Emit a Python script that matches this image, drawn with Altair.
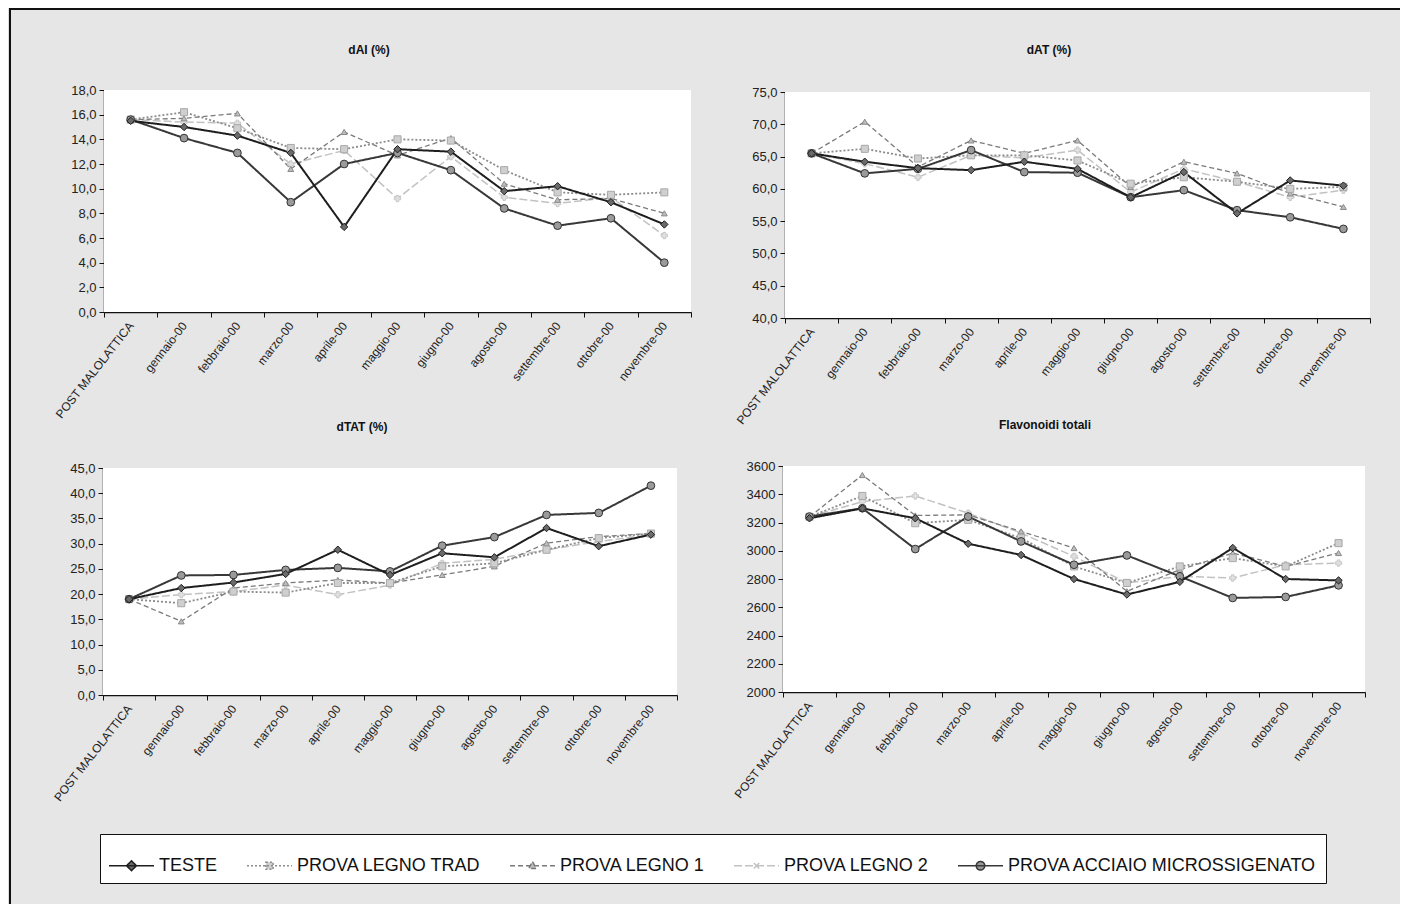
import altair as alt
import pandas as pd

CATS = ["POST MALOLATTICA", "gennaio-00", "febbraio-00", "marzo-00", "aprile-00", "maggio-00",
        "giugno-00", "agosto-00", "settembre-00", "ottobre-00", "novembre-00"]
SERIES = ["TESTE", "PROVA LEGNO TRAD", "PROVA LEGNO 1", "PROVA LEGNO 2", "PROVA ACCIAIO MICROSSIGENATO"]

# dAI (%)
dai_teste = [15.5, 15.0, 14.3, 12.9, 6.9, 13.2, 13.0, 9.8, 10.2, 8.9, 7.1]
dai_trad = [15.6, 16.2, 14.9, 13.3, 13.2, 14.0, 13.9, 11.5, 9.7, 9.5, 9.7]
dai_l1 = [15.6, 15.7, 16.1, 11.6, 14.6, 12.7, 14.1, 10.4, 9.1, 9.2, 8.0]
dai_l2 = [15.6, 15.4, 15.3, 12.0, 13.1, 9.2, 12.6, 9.3, 8.8, 9.3, 6.2]
dai_acc = [15.6, 14.1, 12.9, 8.9, 12.0, 12.9, 11.5, 8.4, 7.0, 7.6, 4.0]

# dAT (%)
dat_teste = [65.5, 64.2, 63.2, 62.9, 64.2, 63.1, 58.7, 62.6, 56.2, 61.3, 60.5]
dat_trad = [65.5, 66.2, 64.7, 65.2, 65.2, 64.4, 60.8, 61.8, 61.1, 60.0, 60.3]
dat_l1 = [65.5, 70.4, 63.4, 67.5, 65.5, 67.5, 60.3, 64.2, 62.4, 59.3, 57.2]
dat_l2 = [65.5, 63.9, 61.8, 65.2, 64.8, 66.0, 59.5, 63.1, 61.1, 58.7, 59.8]
dat_acc = [65.5, 62.4, 63.1, 66.0, 62.6, 62.5, 58.7, 59.8, 56.7, 55.6, 53.8]

# dTAT (%)
dtat_teste = [19.0, 21.2, 22.3, 24.0, 28.8, 23.8, 28.1, 27.3, 33.1, 29.5, 31.8]
dtat_trad = [19.0, 18.2, 20.5, 20.3, 22.2, 22.2, 25.5, 26.1, 28.8, 31.1, 32.0]
dtat_l1 = [19.0, 14.6, 21.2, 22.2, 22.8, 22.2, 23.8, 25.5, 30.1, 31.4, 32.0]
dtat_l2 = [19.0, 19.9, 20.5, 21.8, 19.9, 21.8, 26.1, 26.9, 28.8, 30.4, 31.8]
dtat_acc = [19.0, 23.7, 23.8, 24.8, 25.2, 24.5, 29.6, 31.3, 35.7, 36.1, 41.5]

# Flavonoidi totali
flav_teste = [3230, 3300, 3230, 3050, 2970, 2800, 2690, 2780, 3020, 2800, 2790]
flav_trad = [3240, 3388, 3195, 3219, 3089, 2889, 2772, 2889, 2948, 2889, 3054]
flav_l1 = [3240, 3536, 3250, 3254, 3137, 3019, 2713, 2866, 2984, 2889, 2984]
flav_l2 = [3240, 3348, 3388, 3266, 3125, 2960, 2772, 2819, 2807, 2901, 2913]
flav_acc = [3242, 3301, 3012, 3242, 3066, 2901, 2967, 2819, 2666, 2673, 2755]

W, H = 1392, 896
FONT = "Liberation Sans, Arial, sans-serif"

LINE_COL = ["#1e1e1e", "#8c8c8c", "#7a7a7a", "#c2c2c2", "#383838"]
LINE_DASH = [[1, 0], [2, 2], [5, 3], [8, 3], [1, 0]]
LINE_W = [2.0, 1.8, 1.3, 1.5, 2.0]
MARK_SHAPE = ["diamond", "square", "triangle-up", "cross", "circle"]
MARK_FILL = ["#6a6a6a", "#cfcfcf", "#bdbdbd", "#e0e0e0", "#9a9a9a"]
MARK_STROKE = ["#1e1e1e", "#a8a8a8", "#8a8a8a", "#c8c8c8", "#333333"]
MARK_SIZE = [55, 50, 35, 40, 60]
LEG_PATHS = [
    "M-1,0L1,0M0,-0.22L0.22,0L0,0.22L-0.22,0Z",
    "M-1,0L1,0M-0.16,-0.16L0.16,-0.16L0.16,0.16L-0.16,0.16Z",
    "M-1,0L1,0M0,-0.18L0.17,0.12L-0.17,0.12Z",
    "M-1,0L1,0M-0.12,-0.12L0.12,0.12M-0.12,0.12L0.12,-0.12",
    "M-1,0L1,0M0.19,0A0.19,0.19 0 1,1 -0.19,0A0.19,0.19 0 1,1 0.19,0Z",
]

one = pd.DataFrame({"k": [0]})


def panel(series_vals, x0, x1, ytop, ybot, dom, ticks, label_expr, title, tx, ty):
    rows = []
    for s, vals in zip(SERIES, series_vals):
        for c, v in zip(CATS, vals):
            rows.append({"cat": c, "series": s, "value": v})
    df = pd.DataFrame(rows)
    xenc = alt.X(
        "cat:N", sort=CATS,
        scale=alt.Scale(type="band", domain=CATS, range=[x0, x1], paddingInner=0, paddingOuter=0),
        axis=alt.Axis(orient="bottom", offset=ybot - H, title=None, tickBand="extent",
                      labelAngle=-52, labelAlign="right", labelBaseline="middle",
                      labelFontSize=12, labelPadding=6, tickSize=5, labelColor="#222",
                      domainColor="#111", tickColor="#111", domainWidth=1.5, grid=False,
                      labelOverlap=False, labelFont=FONT),
    )
    yenc = alt.Y(
        "value:Q",
        scale=alt.Scale(domain=dom, range=[ybot, ytop], nice=False, zero=False),
        axis=alt.Axis(orient="left", offset=-x0, title=None, values=ticks, labelExpr=label_expr,
                      labelFontSize=13, tickSize=5, labelPadding=3, labelColor="#222",
                      domainColor="#111", tickColor="#111", domainWidth=1.5, grid=False,
                      labelFont=FONT),
    )
    bg = alt.Chart(one).mark_rect(color="white").encode(
        x=alt.value(x0), x2=alt.value(x1), y=alt.value(ytop), y2=alt.value(ybot))
    order = [3, 2, 1, 4, 0]
    lines = []
    points = []
    for i in order:
        s = SERIES[i]
        base = alt.Chart(df).transform_filter(alt.datum.series == s)
        lines.append(base.mark_line(color=LINE_COL[i], strokeDash=LINE_DASH[i],
                                    strokeWidth=LINE_W[i]).encode(x=xenc, y=yenc))
        points.append(base.mark_point(shape=MARK_SHAPE[i], filled=True, fill=MARK_FILL[i],
                                      stroke=MARK_STROKE[i], strokeWidth=1, opacity=1,
                                      size=MARK_SIZE[i]).encode(x=xenc, y=yenc))
    ttl = alt.Chart(one).mark_text(fontWeight="bold", fontSize=12, font=FONT, color="#111").encode(
        x=alt.value(tx), y=alt.value(ty), text=alt.value(title))
    return alt.layer(bg, *lines, *points, ttl)


dec = "replace(format(datum.value, '.1f'), '.', ',')"
p1 = panel([dai_teste, dai_trad, dai_l1, dai_l2, dai_acc], 96, 683, 82, 304, [0, 18],
           list(range(0, 19, 2)), dec, "dAI (%)", 361, 42)
p2 = panel([dat_teste, dat_trad, dat_l1, dat_l2, dat_acc], 777, 1362, 84, 310, [40, 75],
           list(range(40, 76, 5)), dec, "dAT (%)", 1041, 42)
p3 = panel([dtat_teste, dtat_trad, dtat_l1, dtat_l2, dtat_acc], 95, 669, 460, 687, [0, 45],
           list(range(0, 46, 5)), dec, "dTAT (%)", 354, 419)
p4 = panel([flav_teste, flav_trad, flav_l1, flav_l2, flav_acc], 775, 1357, 458, 684, [2000, 3600],
           list(range(2000, 3601, 200)), "format(datum.value, 'd')", "Flavonoidi totali", 1037, 417)

leg_df = pd.DataFrame({"series": SERIES})
legend_layer = alt.Chart(leg_df).transform_filter("false").mark_point(
    filled=True, opacity=1, strokeWidth=1.5).encode(
    shape=alt.Shape("series:N", scale=alt.Scale(domain=SERIES, range=LEG_PATHS),
                    legend=alt.Legend(orient="none", legendX=92, legendY=826, title=None,
                                      direction="horizontal", columns=5, symbolSize=2025,
                                      labelFontSize=18, labelFont=FONT, labelColor="#111",
                                      labelOffset=4, columnPadding=26, padding=8,
                                      strokeColor="#111", fillColor="white",
                                      symbolStrokeWidth=1.5, labelLimit=400)),
    fill=alt.Fill("series:N", scale=alt.Scale(domain=SERIES, range=MARK_FILL)),
    stroke=alt.Stroke("series:N", scale=alt.Scale(domain=SERIES, range=LINE_COL)),
    strokeDash=alt.StrokeDash("series:N", scale=alt.Scale(domain=SERIES, range=LINE_DASH)),
)

border_left = alt.Chart(one).mark_rule(color="#111", strokeWidth=2).encode(
    x=alt.value(2), y=alt.value(0), y2=alt.value(H))
border_top = alt.Chart(one).mark_rule(color="#111", strokeWidth=2).encode(
    x=alt.value(2), x2=alt.value(W), y=alt.value(1))

chart = alt.layer(border_left, border_top, legend_layer, p1, p2, p3, p4).resolve_scale(
    x="independent", y="independent"
).properties(
    width=W, height=H, autosize=alt.AutoSizeParams(type="none"), padding=0,
    background="#e6e6e6",
).configure_view(stroke=None).configure(font=FONT)

chart.save("out.html", embed_options={"renderer": "svg", "actions": False})
